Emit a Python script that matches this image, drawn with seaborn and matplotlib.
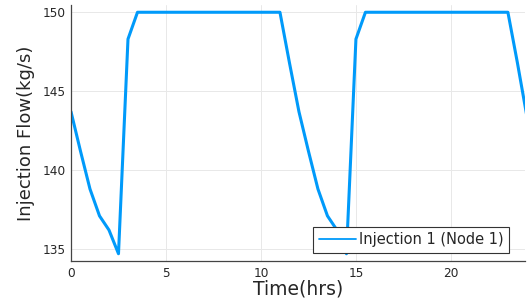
import numpy as np
import pandas as pd
import matplotlib.pyplot as plt
import seaborn as sns

# Injection flow, every half hour, 0..24 hrs
time_hrs = np.arange(0, 24.5, 0.5)
cycle = [143.7, 141.2, 138.8, 137.1, 136.2, 134.7, 148.3,
         150.0, 150.0, 150.0, 150.0, 150.0, 150.0, 150.0, 150.0,
         150.0, 150.0, 150.0, 150.0, 150.0, 150.0, 150.0, 150.0, 146.8]
flow = cycle + cycle + [143.4]

df = pd.DataFrame({'Time': time_hrs, 'Flow': flow})

sns.set_style('white')
plt.rcParams['font.family'] = ['DejaVu Sans']

fig = plt.figure(figsize=(5.31, 3.08), dpi=100)
ax = fig.add_axes([71/531, 47/308, 454/531, 256/308])

sns.lineplot(data=df, x='Time', y='Flow', color='#009AFA', linewidth=2.2,
             label='Injection 1 (Node 1)', ax=ax)

ax.set_xlim(0, 23.9)
ax.set_ylim(134.24, 150.46)
ax.set_xticks([0, 5, 10, 15, 20])
ax.set_yticks([135, 140, 145, 150])
ax.grid(True, color='#e8e8e8', linewidth=0.7)
ax.tick_params(direction='in', length=3, color='#444444', labelsize=8.7, pad=4)
for side in ['top', 'right']:
    ax.spines[side].set_visible(False)
for side in ['left', 'bottom']:
    ax.spines[side].set_color('#444444')
    ax.spines[side].set_linewidth(0.9)

ax.set_xlabel('Time(hrs)', fontsize=13.5, labelpad=0)
ax.set_ylabel('Injection Flow(kg/s)', fontsize=13, labelpad=5)

leg = ax.legend(loc='lower right', fontsize=10.5, frameon=True, fancybox=False,
                framealpha=1, borderpad=0.4, handlelength=2.5, handletextpad=0.2,
                borderaxespad=0, bbox_to_anchor=(0.965, 0.03))
leg.get_frame().set_edgecolor('#333333')
leg.get_frame().set_linewidth(0.8)
for line in leg.get_lines():
    line.set_linewidth(1.3)

fig.savefig('out.png', dpi=100)
